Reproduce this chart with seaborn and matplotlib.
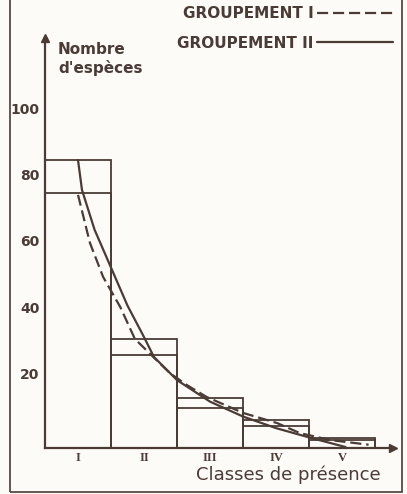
import matplotlib
matplotlib.use("Agg")
import matplotlib.pyplot as plt
from matplotlib.patches import Rectangle
import seaborn as sns
import pandas as pd

ink = '#4a3b35'
paper = '#fcfbf7'
sns.set_theme(style="white")
plt.rcParams['font.family'] = ['DejaVu Sans']

# classes de presence and number of species per class
classes = ["I", "II", "III", "IV", "V"]
groupe1_bars = [77, 28, 12, 6.5, 2.5]
groupe2_bars = [87, 33, 15, 8.5, 3]

# hand drawn fitted curves (x = class position, I = 0)
groupe1_x = [0.0, 0.18, 0.38, 0.52, 0.64, 0.86, 1.14, 1.4, 1.65, 1.95, 2.5, 3.02, 3.36, 3.82, 4.4]
groupe1_y = [76.5, 62, 51.7, 46.8, 42.6, 33, 27.5, 22.5, 19, 15.4, 10.6, 7.5, 4.5, 2.4, 1.0]
groupe2_x = [0.0, 0.06, 0.25, 0.5, 0.75, 1.0, 1.15, 1.5, 2.0, 2.5, 3.0, 3.5, 4.05]
groupe2_y = [87, 78, 66, 54.5, 43, 33.5, 27.5, 20.5, 14, 9.5, 6, 3.2, 0.3]

yticks = [20, 40, 60, 80, 100]

fig = plt.figure(figsize=(4.07, 4.94), dpi=100, facecolor=paper)
ax = fig.add_axes([45/407, 46/494, 348/407, 410/494])
ax.set_facecolor(paper)

bars = pd.DataFrame({'Classe': classes, 'G1': groupe1_bars, 'G2': groupe2_bars})
sns.barplot(data=bars, x='Classe', y='G2', fill=False, color=ink, width=1.0,
            linewidth=1.3, errorbar=None, ax=ax)
sns.barplot(data=bars, x='Classe', y='G1', fill=False, color=ink, width=1.0,
            linewidth=1.3, errorbar=None, ax=ax)

sns.lineplot(x=groupe1_x, y=groupe1_y, sort=False, estimator=None, color=ink,
             linewidth=1.6, linestyle=(0, (5, 2.2)), label='GROUPEMENT I', ax=ax)
sns.lineplot(x=groupe2_x, y=groupe2_y, sort=False, estimator=None, color=ink,
             linewidth=1.6, label='GROUPEMENT II', ax=ax)

ax.set_xlim(-0.5, 4.77)
ax.set_ylim(0, 123.9)

for s in ['top', 'right']:
    ax.spines[s].set_visible(False)
for s in ['left', 'bottom']:
    ax.spines[s].set_color(ink)
    ax.spines[s].set_linewidth(1.6)

# arrow heads on the axes
ax.plot(1, 0, '>', color=ink, markersize=6, transform=ax.get_yaxis_transform(), clip_on=False)
ax.plot(-0.5, 1, '^', color=ink, markersize=6, transform=ax.get_xaxis_transform(), clip_on=False)

ax.set_yticks(yticks)
ax.set_yticklabels([str(v) for v in yticks], fontsize=10, fontweight='bold', color=ink)
for lbl in ax.get_yticklabels():
    lbl.set_va('bottom')
ax.tick_params(axis='y', direction='out', length=3, width=1.4, color=ink, pad=1)
ax.tick_params(axis='x', length=0, pad=3)
for lbl in ax.get_xticklabels():
    lbl.set_fontfamily('Liberation Serif')
    lbl.set_fontweight('bold')
    lbl.set_fontsize(9)
    lbl.set_color(ink)

ax.set_xlabel('Classes de présence', fontsize=13, color=ink)
ax.xaxis.set_label_coords(0.7, -0.043)
ax.set_ylabel("Nombre\nd'espèces", rotation=0, ha='left', va='top', fontsize=11,
              fontweight='bold', color=ink, multialignment='left')
ax.yaxis.set_label_coords(0.037, 0.99)

ax.legend(loc='upper right', bbox_to_anchor=(393/407, 1 - 6/494),
          bbox_transform=fig.transFigure, frameon=False, markerfirst=False,
          handlelength=5, handletextpad=0.2, borderpad=0, borderaxespad=0,
          labelspacing=0.95, prop={'weight': 'bold', 'size': 11}, labelcolor=ink)

# frame of the scanned page
fig.patches.append(Rectangle((10/407, 2/494), 392/407, 1.2, transform=fig.transFigure,
                             fill=False, edgecolor=ink, linewidth=1.2, figure=fig))

plt.savefig('out.png', dpi=100, facecolor=paper)
